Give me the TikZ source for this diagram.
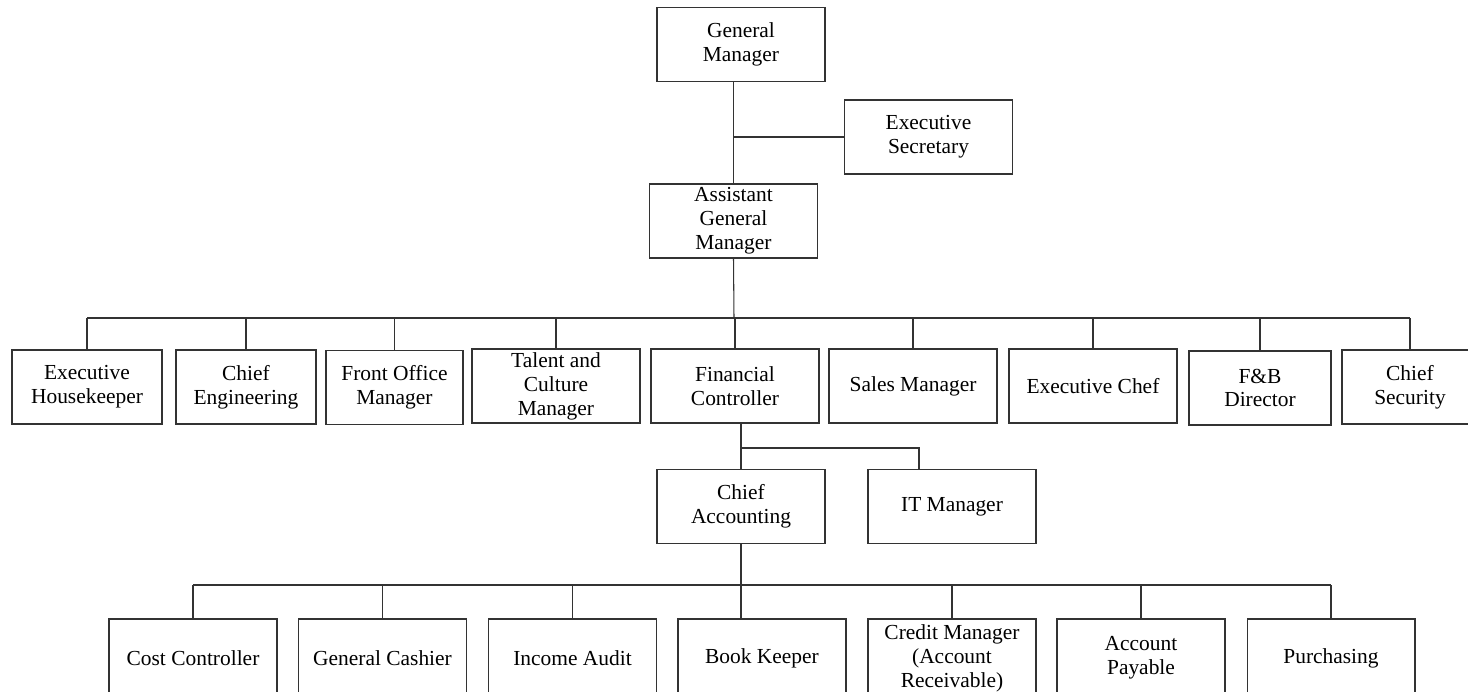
\documentclass[tikz,border=0pt]{standalone}
\usepackage{fontspec}
\setmainfont{Liberation Serif}
\begin{document}
\begin{tikzpicture}[
        x=0.02cm, y=-0.02cm,
        every node/.style={align=center, font=\fontsize{12.2}{13.6}\selectfont},
        post/.style={rectangle, draw=black!80, line width=0.6pt, minimum width=3.36cm, minimum height=1.48cm, inner sep=1pt},
        lowpost/.style={post, minimum height=1.56cm},
        link/.style={draw=black!80, line width=0.6pt}
    ]
        \path[fill=white, use as bounding box] (0,0) rectangle (1468,691);

        \node[post] (gm)  at (741, 44.5)  {General\\Manager};
        \node[post] (es)  at (928.5, 137) {Executive\\Secretary};
        \node[post] (agm) at (733.5, 221) {Assistant\\General\\Manager};

        \node[post, minimum width=3.0cm]  (eh) at (87, 387)    {Executive\\Housekeeper};
        \node[post, minimum width=2.8cm]  (ce) at (246, 387)   {Chief\\Engineering};
        \node[post, minimum width=2.74cm] (fo) at (394.5, 387.5) {Front Office\\Manager};
        \node[post]                       (tc) at (556, 386)   {Talent and\\Culture\\Manager};
        \node[post]                       (fc) at (735, 386)   {Financial\\Controller};
        \node[post]                       (sm) at (913, 386)   {Sales Manager};
        \node[post]                       (ec) at (1093, 386)  {Executive Chef};
        \node[post, minimum width=2.84cm] (fb) at (1260, 388)  {F\&B\\Director};
        \node[post, minimum width=2.72cm] (cs) at (1410, 387)  {Chief\\Security};

        \node[post] (ca) at (741, 506.5) {Chief\\Accounting};
        \node[post] (it) at (952, 506.5) {IT Manager};

        \node[lowpost] (cc) at (193, 658)   {Cost Controller};
        \node[lowpost] (gc) at (382.5, 658) {General Cashier};
        \node[lowpost] (ia) at (572.5, 658) {Income Audit};
        \node[lowpost] (bk) at (762, 658)   {Book Keeper};
        \node[lowpost] (cm) at (952, 658)   {Credit Manager\\(Account\\Receivable)};
        \node[lowpost] (ap) at (1141, 658)  {Account\\Payable};
        \node[lowpost] (pu) at (1331, 658)  {Purchasing};

        \coordinate (bus)    at (734, 318);
        \coordinate (itdrop) at (919, 448);
        \coordinate (bus2)   at (741, 585);

        \draw[link] (agm.north) -- (agm.north |- gm.south);
        \draw[link] (agm.north |- es.west) -- (es.west);

        \draw[link] (agm.south) -- (bus);
        \draw[link] (eh.north |- bus) -- (cs.north |- bus);
        \foreach \n in {eh, ce, fo, tc, fc, sm, ec, fb, cs}
            \draw[link] (\n.north) -- (\n.north |- bus);

        \draw[link] (ca.north) -- (ca.north |- fc.south);
        \draw[link] (ca.north |- itdrop) -- (itdrop) -- (itdrop |- it.north);

        \draw[link] (ca.south) -- (ca.south |- bk.north);
        \draw[link] (cc.north |- bus2) -- (pu.north |- bus2);
        \foreach \n in {cc, gc, ia, cm, ap, pu}
            \draw[link] (\n.north) -- (\n.north |- bus2);
    \end{tikzpicture}
\end{document}
